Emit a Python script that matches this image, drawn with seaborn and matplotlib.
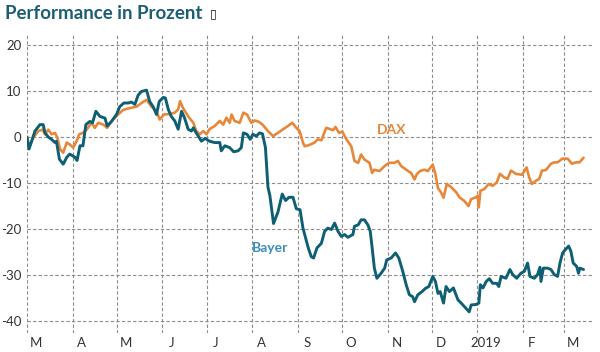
import numpy as np
import pandas as pd
import matplotlib
matplotlib.use("Agg")
import matplotlib.pyplot as plt
import seaborn as sns

start = pd.Timestamp("2018-03-01")

# days since 2018-03-01, performance in percent
bayer_day = [0, 1.4, 5.4, 8.8, 11, 12.2, 14.5, 16.7, 19, 20, 22, 24.6, 27, 29, 32.6, 34, 36, 38,
             40, 42.7, 44.5, 46.8, 49.5, 53, 54.5, 57.4, 60.8, 63, 65.8, 68.7, 71, 73.3, 75.5, 77.8,
             81.2, 83.4, 85.7, 88, 89.8, 92.5, 94, 96, 98, 100.4, 102.7, 105, 107, 109.5, 111.7, 113,
             115, 118.5, 121, 124, 127.5, 131, 132, 134.4, 137.7, 140.4, 143.4, 145.6, 147, 149.5,
             151.7, 153.5, 155.8, 158, 160, 162, 163.7, 165, 167.5, 170.5, 173.4, 175.7, 178, 180.7,
             183, 185.5, 187.5, 189.3, 191, 193.1, 194.7, 197, 200, 202.2, 204.4, 206.8, 209, 211.3,
             213.5, 215.8, 218, 221.4, 222.5, 225, 227, 229.3, 231.6, 233.2, 234.5, 236, 237.7, 240.6,
             243, 244.4, 247.4, 250.4, 252.6, 255.3, 257.6, 259.8, 262, 263.3, 265.5, 268.4, 270.7,
             273, 275.7, 277.5, 279.2, 280.7, 283, 284.7, 287, 289.7, 292.8, 295, 298.1, 300.4, 301.8,
             305.1, 307, 308, 309.8, 312, 314.1, 316.4, 319.1, 320.5, 322.1, 325.4, 328.1, 330, 332.7,
             335.6, 337.9, 340.1, 341.7, 344.7, 346.9, 348.5, 349.2, 350.8, 353.7, 356, 358.2, 360.5,
             362.1, 363.9, 365.7, 368, 369.5, 371.1, 373.4, 374.7, 375.6, 378.1]
bayer_val = [0.0, -2.6, 1.3, 2.7, 2.7, 0.9, 0.0, -0.5, -1.2, -0.9, -4.8, -5.9, -4.4, -3.7, -4.4, -5.1, -1.9, -1.9,
             2.7, 3.4, 3.1, 5.6, 4.5, 4.1, 2.4, 3.4, 4.9, 6.6, 7.4, 7.4, 7.6, 7.1, 9.1, 9.9,
             10.2, 7.7, 6.6, 4.9, 7.7, 8.6, 8.5, 6.0, 4.5, 3.5, 1.7, 5.6, 4.2, 1.7, 1.3, 2.0,
             0.9, -0.9, -0.3, -0.9, -1.2, -1.2, -3.0, -1.9, -2.3, -3.2, -3.0, -2.3, 0.9, 0.6,
             -0.5, 0.6, 0.2, 0.9, 0.7, -2.3, -10.9, -12.7, -18.8, -16.3, -12.4, -13.8, -13.1, -13.1,
             -15.6, -15.8, -19.8, -22.0, -24.0, -26.0, -26.3, -24.1, -23.1, -20.5, -19.8, -20.1, -18.7, -20.5,
             -21.6, -21.2, -21.8, -21.2, -19.4, -19.1, -18.0, -18.0, -19.1, -20.5, -24.1, -28.5, -30.7, -29.6,
             -28.5, -26.7, -26.3, -25.2, -26.3, -29.2, -32.1, -34.3, -34.7, -35.8, -34.3, -33.6, -32.9,
             -32.5, -30.3, -31.4, -34.0, -33.6, -36.1, -32.5, -33.6, -32.8, -35.4, -36.1, -37.2, -38.0, -36.5,
             -36.4, -36.1, -32.1, -32.8, -31.4, -30.8, -31.8, -31.8, -32.5, -30.3, -30.7, -28.8, -29.9, -30.7,
             -29.6, -29.2, -27.4, -30.3, -30.7, -29.9, -28.3, -31.4, -28.5, -28.5, -28.8, -29.9, -30.3,
             -27.4, -25.2, -24.5, -23.7, -24.8, -27.4, -28.1, -29.6, -28.5, -28.8]

dax_day = [0, 1.4, 4.3, 7.7, 10.6, 12.2, 14.5, 16.7, 19, 20.6, 22.4, 24.6, 27, 29, 31.4, 33.7, 35.5, 38,
           40.5, 43.9, 46.1, 48.4, 51.8, 54.5, 57.4, 61.9, 65.3, 69.9, 74.4, 77.8, 81.2, 84.6, 88, 90.2,
           93, 97, 100.4, 102.7, 104, 106, 109.5, 113, 115, 117.4, 119.7, 122, 124, 127.5, 131, 133.3,
           135.5, 137.7, 139, 141, 144.5, 147, 149.5, 152.4, 154.7, 157.6, 160, 163.7, 167.2, 170.5,
           174, 177.3, 180.2, 183, 185.2, 187.5, 188.6, 192, 195.4, 197.6, 200, 203.3, 206, 208,
           209.6, 212, 214.2, 217, 220.3, 222.5, 225, 227, 229.3, 232.7, 234.5, 236, 239.5, 243,
           246, 249.6, 252, 254.2, 257.6, 260.9, 263.3, 264.8, 267, 270, 272.3, 275.7, 277.5, 279.2,
           281.4, 283, 285.2, 288.2, 291.6, 293.8, 297.1, 300, 301.7, 305, 306.2, 306.9, 308, 310.7,
           313.7, 316.4, 319.1, 321.3, 324.3, 326.5, 328.8, 332.2, 336.3, 339.4, 341.2, 343, 345.8,
           348, 349.9, 352.5, 356, 358.2, 360.5, 363.7, 367.3, 370.2, 373, 375.4, 378.1]
dax_val = [0.0, -2.3, -0.1, 1.3, 1.6, 0.6, 1.6, 0.6, 0.9, -0.1, -2.6, -3.4, -1.2, -1.6, -2.3, -0.9, 0.6, 0.9,
           1.6, 3.1, 2.0, 3.1, 2.7, 2.0, 3.4, 4.9, 5.9, 6.3, 6.6, 7.4, 8.1, 6.6, 5.6, 3.8,
           4.9, 5.0, 5.3, 6.0, 7.8, 6.3, 4.5, 3.1, 1.3, 0.6, 1.3, 0.6, 1.7, 2.4, 3.5, 2.7,
           4.2, 3.1, 4.9, 3.5, 3.1, 5.3, 4.9, 3.1, 3.6, 3.3, 2.7, 1.3, 0.2, 0.9,
           1.7, 2.4, 3.1, 2.0, 1.3, -1.2, -2.0, -1.7, -1.2, -0.5, -0.7, 2.0, 1.7, 1.5,
           2.2, 0.9, 1.2, -0.5, -2.0, -5.2, -5.6, -3.8, -4.9, -5.6, -7.8, -7.1, -7.4, -6.3,
           -5.6, -5.6, -5.2, -6.3, -7.1, -7.8, -9.2, -8.1, -7.4, -7.1, -7.4, -6.0, -8.1, -11.1,
           -12.1, -13.2, -10.2, -10.9, -12.0, -13.1, -13.9, -15.0, -13.5, -13.1, -12.8, -15.3, -11.7, -11.3,
           -10.2, -10.6, -9.9, -8.0, -8.8, -9.1, -7.3, -8.0, -8.2, -6.6, -8.8, -10.2, -9.5,
           -9.1, -7.3, -7.2, -5.8, -5.5, -5.5, -4.7, -4.7, -5.8, -5.5, -5.5, -4.5]

month_labels = ["M", "A", "M", "J", "J", "A", "S", "O", "N", "D", "2019", "F", "M"]
y_ticks = [20, 10, 0, -10, -20, -30, -40]

teal = "#0f5f74"
orange = "#e6873a"

bayer = pd.DataFrame({"date": start + pd.to_timedelta(bayer_day, unit="D"), "value": bayer_val})
dax = pd.DataFrame({"date": start + pd.to_timedelta(dax_day, unit="D"), "value": dax_val})

sns.set_style("white")
plt.rcParams["font.family"] = ["Lato", "DejaVu Sans"]

fig = plt.figure(figsize=(6, 3.52), dpi=100)
ax = fig.add_axes([0.045, 0.054, 0.942, 0.852])

sns.lineplot(data=dax, x="date", y="value", ax=ax, color=orange, linewidth=1.9,
             estimator=None, sort=False)
sns.lineplot(data=bayer, x="date", y="value", ax=ax, color=teal, linewidth=2.1,
             estimator=None, sort=False)

ax.set_ylim(-42.6, 22.6)
ax.set_xlim(start, start + pd.Timedelta(days=384))
ax.set_yticks(y_ticks)
ax.set_yticklabels([str(v) for v in y_ticks], fontsize=9.5, color="#333333")

month_starts = pd.date_range("2018-03-01", periods=13, freq="MS")
ax.set_xticks(month_starts)
ax.set_xticklabels([])
ax.set_xticks(month_starts + pd.Timedelta(days=6), minor=True)
ax.set_xticklabels(month_labels, minor=True, fontsize=9.5, color="#333333")
ax.tick_params(axis="x", which="both", length=0, pad=3)
ax.tick_params(axis="y", length=0, pad=4)

ax.grid(True, which="major", linestyle=(0, (3, 2)), color="#8c8c8c", linewidth=0.8)
ax.set_xlabel("")
ax.set_ylabel("")
sns.despine(ax=ax, left=True, bottom=True)

ax.text(start + pd.Timedelta(days=165), -24.1, "Bayer", color="#3b8dbd", fontsize=10,
        fontweight="bold", ha="center", va="center")
ax.text(start + pd.Timedelta(days=248), 1.5, "DAX", color=orange, fontsize=10,
        fontweight="bold", ha="center", va="center")

fig.text(0.008, 0.962, "Performance in Prozent", fontsize=13.5, fontweight="bold",
         color="#1b5f74", ha="left", va="center")
fig.text(0.350, 0.962, "\u25af", fontsize=9, color="#222222", ha="left", va="center",
         family="DejaVu Sans")

fig.savefig("out.png", dpi=100)
